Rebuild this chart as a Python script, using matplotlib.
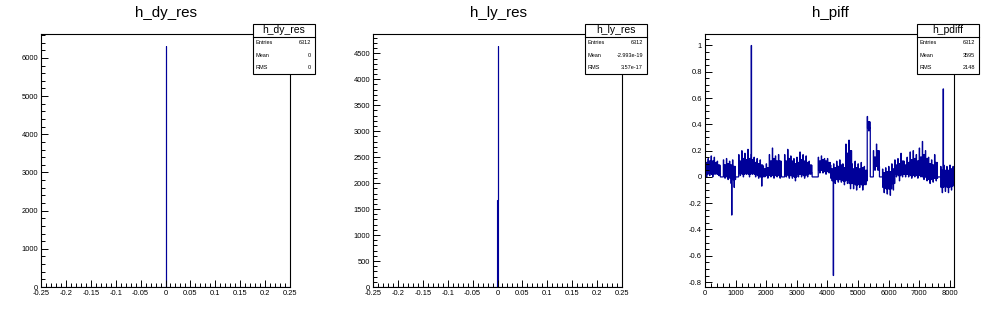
import numpy as np
import matplotlib
matplotlib.use('Agg')
import matplotlib.pyplot as plt
from matplotlib.ticker import MultipleLocator, FuncFormatter
from matplotlib.patches import Rectangle

plt.rcParams['font.family'] = ['Liberation Sans', 'DejaVu Sans']
plt.rcParams['axes.unicode_minus'] = False

# ---------------- data ----------------
titles = ["h_dy_res", "h_ly_res", "h_piff"]
stat_names = ["h_dy_res", "h_ly_res", "h_pdiff"]
stat_labels = ["Entries", "Mean", "RMS"]
stat_values = [["6312", "0", "0"],
               ["6312", "-2.993e-19", "3.57e-17"],
               ["6312", "3595", "2148"]]

res_bin_width = 0.001
res_range = (-0.25, 0.25)
dy_bin_left = [0.0]
dy_counts = [6312]
ly_bin_left = [-0.001, 0.0]
ly_counts = [1672, 4640]

# h_pdiff: per 100-unit chunk (starting at 0): extreme top, dense top,
# dense bottom, extreme bottom
pdiff_chunk = 100
pdiff_sub = 10
pdiff_hi = [0.15, 0.14, 0.16, 0.15, 0.12, 0.0, 0.13, 0.14, 0.12, 0.13,
            0.0, 0.17, 0.20, 0.18, 0.21, 0.17, 0.15, 0.14, 0.13, 0.08,
            0.10, 0.17, 0.22, 0.16, 0.17, 0.0, 0.17, 0.21, 0.16, 0.14,
            0.15, 0.19, 0.17, 0.16, 0.12, 0.0, 0.0, 0.15, 0.16, 0.14,
            0.14, 0.09, 0.10, 0.12, 0.13, 0.10, 0.25, 0.28, 0.10, 0.12,
            0.10, 0.11, 0.08, 0.46, 0.0, 0.20, 0.25, 0.0, 0.06, 0.07,
            0.08, 0.10, 0.13, 0.14, 0.18, 0.12, 0.15, 0.19, 0.20, 0.17,
            0.22, 0.27, 0.20, 0.15, 0.13, 0.17, 0.0, 0.08, 0.09, 0.08,
            0.09, 0.08]
pdiff_core_hi = [0.11, 0.12, 0.12, 0.11, 0.09, 0.0, 0.09, 0.10, 0.09, 0.08,
                 0.0, 0.12, 0.14, 0.13, 0.14, 0.13, 0.11, 0.10, 0.09, 0.06,
                 0.07, 0.12, 0.14, 0.12, 0.12, 0.0, 0.12, 0.14, 0.12, 0.10,
                 0.11, 0.13, 0.12, 0.11, 0.09, 0.0, 0.0, 0.12, 0.13, 0.12,
                 0.11, 0.06, 0.07, 0.08, 0.09, 0.07, 0.18, 0.20, 0.06, 0.07,
                 0.06, 0.07, 0.05, 0.42, 0.0, 0.15, 0.20, 0.0, 0.03, 0.04,
                 0.04, 0.06, 0.09, 0.10, 0.12, 0.09, 0.11, 0.13, 0.14, 0.12,
                 0.15, 0.17, 0.14, 0.10, 0.09, 0.11, 0.0, 0.05, 0.05, 0.05,
                 0.06, 0.05]
pdiff_core_lo = [0.02, 0.03, 0.02, 0.03, 0.02, 0.0, 0.01, 0.00, -0.01, -0.02,
                 0.0, 0.03, 0.02, 0.03, 0.02, 0.03, 0.02, 0.01, 0.00, 0.01,
                 0.01, 0.02, 0.01, 0.02, 0.01, 0.0, 0.02, 0.01, 0.01, 0.00,
                 0.02, 0.02, 0.01, 0.02, 0.03, 0.0, 0.0, 0.05, 0.05, 0.04,
                 0.05, -0.01, -0.02, -0.02, -0.02, -0.03, -0.02, -0.05, -0.05, -0.06,
                 -0.05, -0.06, -0.03, 0.37, 0.0, 0.08, 0.08, 0.0, -0.08, -0.09,
                 -0.09, -0.05, 0.02, 0.01, 0.02, 0.02, 0.02, 0.01, 0.02, 0.01,
                 0.02, 0.00, 0.00, -0.02, -0.01, -0.01, 0.0, -0.08, -0.07, -0.08,
                 -0.07, -0.05]
pdiff_lo = [0.00, 0.01, 0.00, 0.02, 0.01, 0.0, -0.01, -0.02, -0.05, -0.08,
            0.0, 0.01, 0.00, 0.02, 0.00, 0.02, 0.00, -0.01, -0.07, 0.00,
            -0.01, 0.00, -0.01, 0.00, -0.01, 0.0, 0.00, -0.01, -0.01, -0.03,
            0.00, 0.00, -0.01, 0.00, 0.02, 0.0, 0.0, 0.03, 0.03, 0.02,
            0.03, -0.03, -0.05, -0.04, -0.04, -0.06, -0.05, -0.09, -0.09, -0.10,
            -0.08, -0.10, -0.06, 0.35, 0.0, 0.05, 0.05, 0.0, -0.12, -0.13,
            -0.14, -0.10, 0.00, -0.03, 0.00, 0.00, 0.00, -0.01, 0.00, -0.01,
            0.00, -0.02, -0.03, -0.05, -0.04, -0.03, 0.0, -0.12, -0.11, -0.12,
            -0.10, -0.08]
pdiff_spike_x = [870, 1514, 4194, 7789]
pdiff_spike_y = [-0.29, 1.0, -0.75, 0.67]
pdiff_xmax = 8135

# ---------------- styling ----------------
W, H = 996, 322
LINE = '#000099'
fig = plt.figure(figsize=(W / 100, H / 100), dpi=100)

def fx(px):
    return px / W

def fy(py):
    return 1 - py / H

ax_left_px = [41, 373, 705]
ax_w_px = 249
ax_top_px, ax_bot_px = 34, 287

def gfmt(v, pos):
    if abs(v) < 1e-12:
        return "0"
    return "%g" % round(v, 6)

axes = []
for i in range(3):
    ax = fig.add_axes([fx(ax_left_px[i]), fy(ax_bot_px),
                       ax_w_px / W, (ax_bot_px - ax_top_px) / H])
    for s in ax.spines.values():
        s.set_linewidth(0.8)
        s.set_color('black')
    ax.tick_params(which='both', direction='in', top=False, right=False,
                   labelsize=5.4, width=0.7, pad=2.2, colors='black')
    ax.tick_params(which='major', length=5.2)
    ax.tick_params(which='minor', length=2.6)
    ax.xaxis.set_major_formatter(FuncFormatter(gfmt))
    ax.yaxis.set_major_formatter(FuncFormatter(gfmt))
    axes.append(ax)

# panel 1 & 2
nbins = int(round((res_range[1] - res_range[0]) / res_bin_width))
edges = np.linspace(res_range[0], res_range[1], nbins + 1)
for ax, lefts, counts in [(axes[0], dy_bin_left, dy_counts),
                          (axes[1], ly_bin_left, ly_counts)]:
    vals = np.zeros(nbins)
    for l, c in zip(lefts, counts):
        vals[int(round((l - res_range[0]) / res_bin_width))] = c
    ax.stairs(vals, edges, color=LINE, lw=0.8)
    ax.set_xlim(*res_range)
    ax.set_ylim(0, max(counts) * 1.05)
    ax.xaxis.set_major_locator(MultipleLocator(0.05))
    ax.xaxis.set_minor_locator(MultipleLocator(0.01))
axes[0].yaxis.set_major_locator(MultipleLocator(1000))
axes[0].yaxis.set_minor_locator(MultipleLocator(200))
axes[1].yaxis.set_major_locator(MultipleLocator(500))
axes[1].yaxis.set_minor_locator(MultipleLocator(100))

# panel 3: each chunk drawn as alternating sub-bins spanning its envelope
nsub = pdiff_chunk // pdiff_sub
pvals = []
for hi, ch, cl, lo in zip(pdiff_hi, pdiff_core_hi, pdiff_core_lo, pdiff_lo):
    pattern = [hi, cl, ch, cl, ch, lo, ch, cl, ch, cl]
    pvals.extend(pattern[:nsub])
pvals = np.array(pvals)
pedges = np.arange(len(pvals) + 1) * pdiff_sub
for sx, sy in zip(pdiff_spike_x, pdiff_spike_y):
    pvals[int(sx // pdiff_sub)] = sy
ax = axes[2]
ax.stairs(pvals, pedges, color=LINE, lw=0.9)
ax.set_xlim(0, pdiff_xmax)
pmax, pmin = max(pdiff_spike_y), min(pdiff_spike_y)
marg = 0.05 * (pmax - pmin)
ax.set_ylim(pmin - marg, pmax + marg)
ax.xaxis.set_major_locator(MultipleLocator(1000))
ax.xaxis.set_minor_locator(MultipleLocator(200))
ax.yaxis.set_major_locator(MultipleLocator(0.2))
ax.yaxis.set_minor_locator(MultipleLocator(0.05))

# titles and stats boxes
for i in range(3):
    off = 332 * i
    fig.text(fx(off + 166), fy(13.5), titles[i], ha='center', va='center',
             fontsize=10.9)
    x0, x1 = off + 253, off + 315
    y0, y1 = 24, 74
    fig.add_artist(Rectangle((fx(x0), fy(y1)), (x1 - x0) / W, (y1 - y0) / H,
                             transform=fig.transFigure, facecolor='white',
                             edgecolor='black', lw=0.8, zorder=5))
    rowh = (y1 - y0) / 4
    fig.add_artist(plt.Line2D([fx(x0), fx(x1)], [fy(y0 + rowh)] * 2,
                              transform=fig.transFigure, color='black',
                              lw=0.8, zorder=6))
    fig.text(fx((x0 + x1) / 2), fy(y0 + rowh / 2), stat_names[i],
             ha='center', va='center', fontsize=7.5, zorder=7)
    for r in range(3):
        yc = y0 + rowh * (r + 1.5)
        fig.text(fx(x0 + 2.5), fy(yc), stat_labels[r], ha='left',
                 va='center', fontsize=4.0, zorder=7)
        fig.text(fx(x1 - 4), fy(yc), stat_values[i][r], ha='right',
                 va='center', fontsize=4.0, zorder=7)

fig.savefig('out.png', dpi=100)
